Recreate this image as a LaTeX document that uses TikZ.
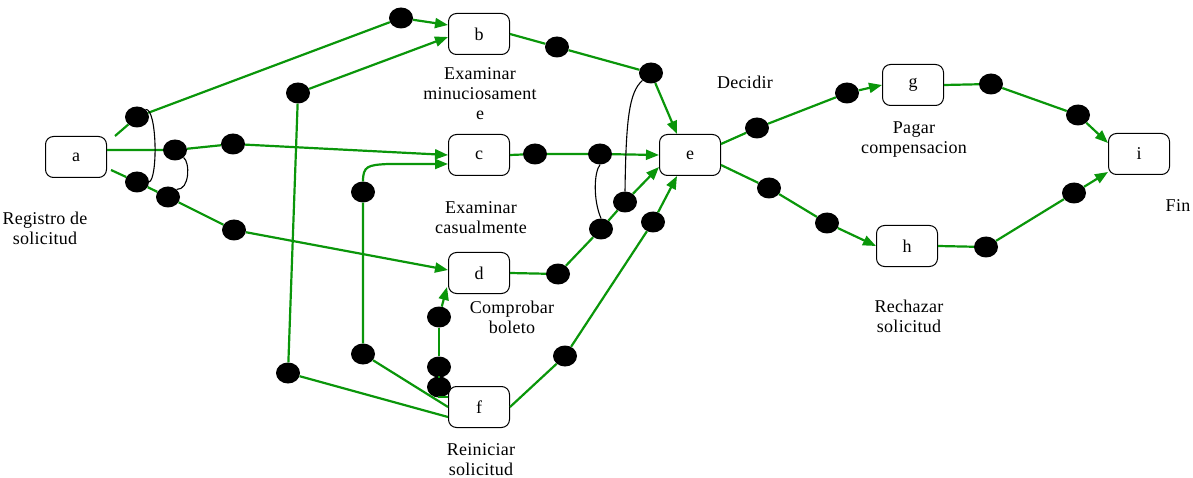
\documentclass[tikz,border=0pt]{standalone}
\usepackage{fontspec}
\setmainfont{Liberation Serif}[LetterSpace=1.5]
\usetikzlibrary{arrows.meta,shapes.geometric,calc}
\definecolor{gr}{RGB}{10,150,10}
\tikzset{
  box/.style={draw,line width=1pt,rounded corners=8pt,minimum width=61pt,minimum height=41pt,fill=white,font=\fontsize{18}{18}\selectfont,inner sep=0pt},
  dot/.style={ellipse,fill=black,minimum width=24pt,minimum height=21pt,inner sep=0pt},
  lbl/.style={align=center,font=\fontsize{18}{20}\selectfont,inner sep=0pt},
  gl/.style={draw=gr,line width=2.2pt},
  ga/.style={gl,-{Triangle[length=13pt,width=10pt]}},
  bind/.style={draw=black,line width=1.1pt}
}
\begin{document}
\begin{tikzpicture}[x=1pt,y=-1pt]
\useasboundingbox (0,0) rectangle (1193,478);
% boxes
\node[box] (a) at (76,157) {a};
\node[box] (b) at (479,34) {b};
\node[box] (c) at (479,155) {c};
\node[box] (d) at (479,273) {d};
\node[box] (e) at (690,155) {e};
\node[box] (f) at (479,407) {f};
\node[box] (g) at (913,85) {g};
\node[box] (h) at (907,246) {h};
\node[box] (i) at (1139,154) {i};
% labels
\node[lbl] (la) at (45,228) {Registro de\\solicitud};
\node[lbl] (lb) at (480,94) {Examinar\\minuciosament\\e};
\node[lbl] (lc) at (481,218) {Examinar\\casualmente};
\node[lbl] (ld) at (512,317) {Comprobar\\boleto};
\node[lbl] (lf) at (481,460) {Reiniciar\\solicitud};
\node[lbl] (le) at (745,82) {Decidir};
\node[lbl] (lg) at (914,140) {Pagar\\compensacion};
\node[lbl] (lh) at (909,316) {Rechazar\\solicitud};
\node[lbl] (li) at (1178,206) {Fin};
% free ends
\coordinate (as1) at (115,136);
\coordinate (as3) at (111,170);
\coordinate (fk) at (439,397);
% dots
\node[dot] (a1) at (137,117) {};
\node[dot] (a2) at (175,150) {};
\node[dot] (a3) at (233,144) {};
\node[dot] (a4) at (137,182) {};
\node[dot] (a5) at (168,197) {};
\node[dot] (a6) at (234,230) {};
\node[dot] (b1) at (401,18) {};
\node[dot] (fb2) at (298,93) {};
\node[dot] (fb1) at (288,373) {};
\node[dot] (b2) at (557,47) {};
\node[dot] (b3) at (651,73) {};
\node[dot] (c1) at (535,154) {};
\node[dot] (c2) at (600,154) {};
\node[dot] (d1) at (558,274) {};
\node[dot] (d2) at (601,229) {};
\node[dot] (d3) at (625,202) {};
\node[dot] (fe1) at (565,356) {};
\node[dot] (fe2) at (653,222) {};
\node[dot] (fd1) at (439,387) {};
\node[dot] (fd2) at (439,367) {};
\node[dot] (fd3) at (439,317) {};
\node[dot] (fc1) at (363,354) {};
\node[dot] (fc2) at (363,192) {};
\node[dot] (e1) at (757,128) {};
\node[dot] (e2) at (847,93) {};
\node[dot] (e3) at (769,188) {};
\node[dot] (e4) at (827,223) {};
\node[dot] (g1) at (991,84) {};
\node[dot] (g2) at (1078,115) {};
\node[dot] (h1) at (986,247) {};
\node[dot] (h2) at (1074,193) {};
% green connectors
\draw[gl] (as1) -- (a1) -- (b1);
\draw[ga] (b1) -- ($(b.west)+(0,-9)$);
\draw[gl] ($(a.east)+(0,-7)$) -- (a2) -- (a3);
\draw[ga] (a3) -- (c.west);
\draw[gl] (as3) -- (a4) -- (a5) -- (a6);
\draw[ga] (a6) -- ($(d.west)+(0,-3)$);
\draw[gl] (b.east) -- (b2) -- (b3);
\draw[ga] (b3) -- ($(e.north)+(-13,0)$);
\draw[gl] (c.east) -- (c1) -- (c2);
\draw[ga] (c2) -- (e.west);
\draw[gl] (d.east) -- (d1) -- (d2) -- (d3);
\draw[ga] (d3) -- ($(e.west)+(0,12)$);
\draw[gl] (f.east) -- (fe1) -- (fe2);
\draw[ga] (fe2) -- ($(e.south)+(-13,0)$);
\draw[gl] ($(f.west)+(0,-10)$) -- (fk) -- (fd1) -- (fd2) -- (fd3);
\draw[ga] (fd3) -- ($(d.west)+(-1,14)$);
\draw[gl] (f.west) -- (fc1) -- (fc2);
\draw[ga] (fc2.north) .. controls (363,166) and (368,165) .. ($(c.west)+(-60,9)$) -- ($(c.west)+(0,9)$);
\draw[gl] ($(f.west)+(0,10)$) -- (fb1) -- (fb2);
\draw[ga] (fb2) -- ($(b.west)+(0,3)$);
\draw[gl] ($(e.east)+(0,-11)$) -- (e1) -- (e2);
\draw[ga] (e2) -- (g.west);
\draw[gl] ($(e.east)+(0,10)$) -- (e3) -- (e4);
\draw[ga] (e4) -- (h.west);
\draw[gl] (g.east) -- (g1) -- (g2);
\draw[ga] (g2) -- ($(i.west)+(0,-11)$);
\draw[gl] (h.east) -- (h1) -- (h2);
\draw[ga] (h2) -- ($(i.west)+(0,18)$);
% bindings
\draw[bind] (a1.north east) .. controls (157,108) and (158,178) .. (a4.east);
\draw[bind] (a2.south east) .. controls (190,162) and (190,190) .. (a5.north east);
\draw[bind] (b3.south west) .. controls (629,92) and (626,120) .. (d3.north);
\draw[bind] (c2.south) .. controls (594,172) and (593,200) .. (d2.north);
\end{tikzpicture}
\end{document}
